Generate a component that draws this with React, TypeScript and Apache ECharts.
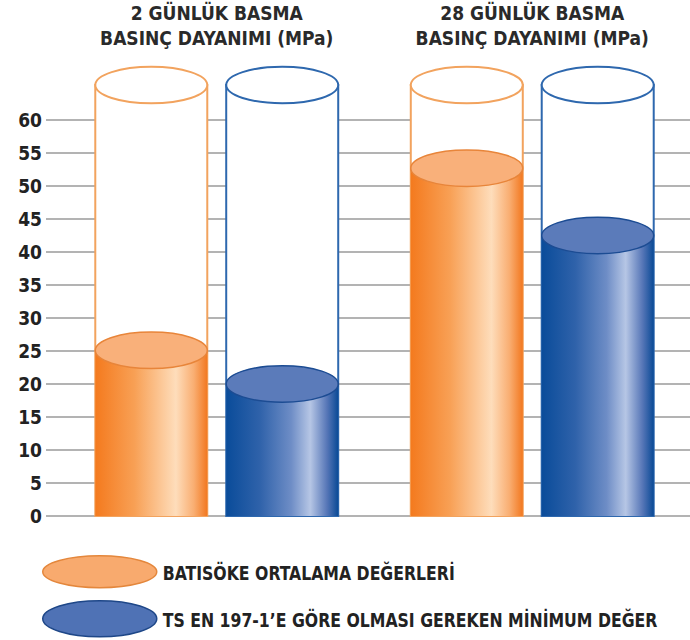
import React, { useEffect, useRef } from "react";
import * as echarts from "echarts";

const categories = [
  "2 GÜNLÜK BASMA\nBASINÇ DAYANIMI (MPa)",
  "28 GÜNLÜK BASMA\nBASINÇ DAYANIMI (MPa)",
];
const seriesNames = [
  "BATISÖKE ORTALAMA DEĞERLERİ",
  "TS EN 197-1’E GÖRE OLMASI GEREKEN MİNİMUM DEĞER",
];
const batisokeValues = [25.1, 52.7];
const minimumValues = [20, 42.5];
const capacity = 65.3;
const axisMin = 0;
const axisMax = 60;
const axisStep = 5;

const FONT = '"Liberation Sans Narrow", "DejaVu Sans Condensed", "Roboto Condensed", "Liberation Sans", sans-serif';

const palettes = [
  {
    outline: "#F2A35E",
    top: "#F9B07A",
    topStroke: "#E8853A",
    stops: [
      { offset: 0, color: "#F47A1E" },
      { offset: 0.35, color: "#F8A055" },
      { offset: 0.72, color: "#FEDDBB" },
      { offset: 0.88, color: "#F9AE72" },
      { offset: 1, color: "#F27820" },
    ],
    legendFill: "#F8AA6E",
    legendStroke: "#E4873C",
  },
  {
    outline: "#2E68AE",
    top: "#5B7BBA",
    topStroke: "#1C4C93",
    stops: [
      { offset: 0, color: "#0A4C9A" },
      { offset: 0.3, color: "#2F62AA" },
      { offset: 0.58, color: "#6E8DC6" },
      { offset: 0.75, color: "#B6C6E5" },
      { offset: 0.9, color: "#5676B7" },
      { offset: 1, color: "#0A4A96" },
    ],
    legendFill: "#4F72B5",
    legendStroke: "#1E4788",
  },
];

function makeRenderItem(sIdx: number) {
  const pal = palettes[sIdx];
  const sign = sIdx === 0 ? -1 : 1;
  return (params: any, api: any) => {
    const cat = api.value(0);
    const val = api.value(1);
    const p0 = api.coord([cat, axisMin]);
    const pMax = api.coord([cat, axisMax]);
    const y0 = p0[1];
    const band = api.size([1, 0])[0];
    const w = band * 0.355;
    const gap = band * 0.06;
    const cx = p0[0] + (sign * (w + gap)) / 2;
    const yVal = api.coord([cat, val])[1];
    const yCap = y0 + ((pMax[1] - y0) * (capacity - axisMin)) / (axisMax - axisMin);
    const rx = w / 2;
    const ry = w * 0.163;
    return {
      type: "group",
      children: [
        {
          type: "rect",
          shape: { x: cx - rx, y: yCap, width: w, height: y0 - yCap },
          style: { fill: "#ffffff", stroke: pal.outline, lineWidth: 2 },
        },
        {
          type: "ellipse",
          shape: { cx, cy: yCap, rx, ry },
          style: { fill: "#ffffff", stroke: pal.outline, lineWidth: 2 },
        },
        {
          type: "rect",
          shape: { x: cx - rx, y: yVal, width: w, height: y0 - yVal },
          style: {
            fill: {
              type: "linear",
              x: 0,
              y: 0,
              x2: 1,
              y2: 0,
              colorStops: pal.stops,
            },
          },
        },
        {
          type: "ellipse",
          shape: { cx, cy: yVal, rx, ry },
          style: { fill: pal.top, stroke: pal.topStroke, lineWidth: 1.5 },
        },
      ],
    };
  };
}

function measure(text: string, font: string): number {
  const c = document.createElement("canvas");
  const ctx = c.getContext("2d");
  if (!ctx) return 0;
  ctx.font = font;
  return ctx.measureText(text).width;
}

export default function App() {
  const ref = useRef<HTMLDivElement>(null);
  useEffect(() => {
    if (!ref.current) return;
    const chart = echarts.init(ref.current, null, { renderer: "svg" });
    const seriesData = [batisokeValues, minimumValues];
    const legendFontSize = 19;
    const longest = measure(seriesNames[1], `bold ${legendFontSize}px ${FONT}`);
    const legendScale = longest > 0 ? Math.min(1, 495 / longest) : 1;
    chart.setOption({
      animation: false,
      backgroundColor: "#ffffff",
      grid: { left: 59, top: 120, width: 635, bottom: 124 },
      xAxis: {
        type: "category",
        data: categories,
        position: "top",
        axisLine: { show: false },
        axisTick: { show: false },
        splitLine: { show: false },
        axisLabel: {
          interval: 0,
          margin: 70,
          fontFamily: FONT,
          fontSize: 19,
          fontWeight: "bold",
          color: "#2a2a2a",
          lineHeight: 25,
          align: "center",
        },
      },
      yAxis: {
        type: "value",
        min: axisMin,
        max: axisMax,
        interval: axisStep,
        axisLine: { show: false },
        axisTick: {
          show: true,
          length: 13,
          lineStyle: { color: "#9a9a9a", width: 1.5 },
        },
        splitLine: { show: true, lineStyle: { color: "#9a9a9a", width: 1.5 } },
        axisLabel: {
          margin: 17,
          fontFamily: FONT,
          fontSize: 19,
          fontWeight: "bold",
          color: "#222222",
        },
      },
      series: seriesNames.map((name, sIdx) => ({
        type: "custom",
        name,
        clip: false,
        renderItem: makeRenderItem(sIdx),
        encode: { x: 0, y: 1 },
        data: seriesData[sIdx].map((v, i) => [i, v]),
        z: 5,
      })),
      graphic: seriesNames.map((name, sIdx) => ({
        type: "group",
        left: 42,
        top: sIdx === 0 ? 555 : 600,
        children: [
          {
            type: "ellipse",
            shape: { cx: 58, cy: sIdx === 0 ? 16 : 18, rx: 57, ry: sIdx === 0 ? 16 : 18 },
            style: {
              fill: palettes[sIdx].legendFill,
              stroke: palettes[sIdx].legendStroke,
              lineWidth: 1.5,
            },
          },
          {
            type: "text",
            x: 121,
            y: sIdx === 0 ? 17 : 19,
            scaleX: legendScale,
            style: {
              text: name,
              fontFamily: FONT,
              fontSize: legendFontSize,
              fontWeight: "bold",
              fill: "#222222",
              verticalAlign: "middle",
              align: "left",
            },
          },
        ],
      })),
    });
    return () => chart.dispose();
  }, []);
  return (
    <div
      ref={ref}
      style={{ position: "fixed", left: 0, top: 0, width: 690, height: 640 }}
    />
  );
}
